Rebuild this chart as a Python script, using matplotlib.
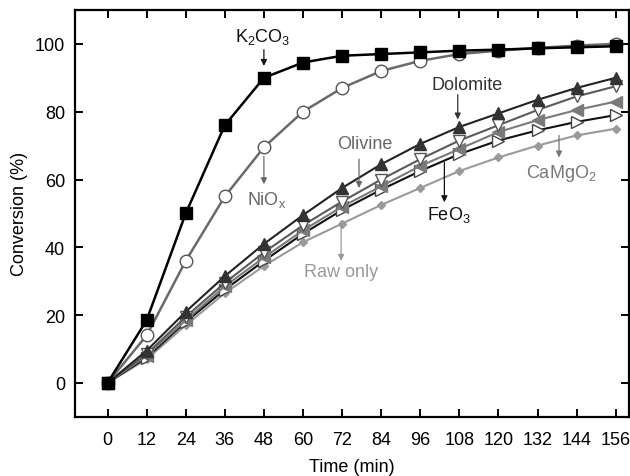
import matplotlib
matplotlib.use("Agg")
import matplotlib.pyplot as plt

plt.rcParams['font.family'] = ['Liberation Sans', 'DejaVu Sans']
plt.rcParams['mathtext.fontset'] = 'custom'
plt.rcParams['mathtext.rm'] = 'Liberation Sans'
plt.rcParams['mathtext.it'] = 'Liberation Sans'

time_min = [0, 12, 24, 36, 48, 60, 72, 84, 96, 108, 120, 132, 144, 156]

k2co3 = [0, 18.5, 50, 76, 90, 94.5, 96.5, 97, 97.5, 98, 98.3, 98.7, 99, 99.3]
niox = [0, 14, 36, 55, 69.5, 80, 87, 92, 95, 97, 98, 98.8, 99.5, 100]
dolomite = [0, 9.5, 21, 31.5, 41, 49.5, 57.5, 64.5, 70.5, 75.5, 79.5, 83.5, 87, 90]
olivine = [0, 8.5, 19.5, 29.5, 38.5, 46.5, 53.5, 60, 66, 71.5, 76, 80.5, 84.5, 87.5]
camgo2 = [0, 8, 18.5, 28.5, 37, 45, 52, 58, 64, 69, 74, 77.5, 80.5, 83]
feo3 = [0, 7.5, 18, 27.5, 36, 44, 51, 57, 62.5, 67.5, 71.5, 74.5, 77, 79]
raw_only = [0, 7, 17, 26.5, 34.5, 41.5, 47, 52.5, 57.5, 62.5, 66.5, 70, 73, 75]

x_ticks = [0, 12, 24, 36, 48, 60, 72, 84, 96, 108, 120, 132, 144, 156]
y_ticks = [0, 20, 40, 60, 80, 100]

fig = plt.figure(figsize=(6.3, 4.77), dpi=100)
ax = fig.add_axes([0.119, 0.124, 0.879, 0.853])

# series drawn back to front
ax.plot(time_min, raw_only, color='#9a9a9a', lw=1.5, marker='D', ms=4.5,
        mfc='#9a9a9a', mec='#9a9a9a', zorder=2)
ax.plot(time_min, feo3, color='#111111', lw=1.5, marker='>', ms=8,
        mfc='white', mec='#444444', mew=1.0, zorder=3)
ax.plot(time_min, camgo2, color='#7a7a7a', lw=1.5, marker='<', ms=8,
        mfc='#7a7a7a', mec='#7a7a7a', zorder=3)
ax.plot(time_min, olivine, color='#5a5a5a', lw=1.5, marker='v', ms=9,
        mfc='white', mec='#555555', mew=1.0, zorder=4)
ax.plot(time_min, dolomite, color='#222222', lw=1.5, marker='^', ms=9,
        mfc='#333333', mec='#333333', zorder=5)
ax.plot(time_min, niox, color='#6a6a6a', lw=1.8, marker='o', ms=9,
        mfc='white', mec='#555555', mew=1.0, zorder=6)
ax.plot(time_min, k2co3, color='#000000', lw=1.8, marker='s', ms=8.5,
        mfc='#000000', mec='#000000', zorder=7)

ax.set_xlim(-10, 160)
ax.set_ylim(-10, 110)
ax.set_xticks(x_ticks)
ax.set_yticks(y_ticks)
ax.tick_params(direction='in', length=6, width=1.4, top=True, right=True,
               labelsize=13)
ax.tick_params(axis='x', pad=10.5)
ax.tick_params(axis='y', pad=7)
for s in ax.spines.values():
    s.set_linewidth(1.6)

ax.set_xlabel('Time (min)', fontsize=13, labelpad=7)
ax.set_ylabel('Conversion (%)', fontsize=13, labelpad=5)


def note(text, color, label_xy, tail, head):
    """Label text plus a thin downward arrow from tail to head."""
    ax.text(*label_xy, text, color=color, fontsize=13,
            ha='center', va='center', zorder=8)
    ax.annotate('', xy=head, xytext=tail, zorder=8,
                arrowprops=dict(arrowstyle='-|>', color=color, lw=0.9,
                                mutation_scale=9, shrinkA=0, shrinkB=0))


note(r'K$_2$CO$_3$', '#111111', (47.5, 102.2), (48, 98.3), (48, 93.5))
note(r'NiO$_\mathrm{x}$', '#666666', (49, 54.2), (48, 66.8), (48, 58.6))
note('Olivine', '#666666', (79, 70.7), (77.2, 66), (77.2, 57.5))
note('Dolomite', '#333333', (110.3, 88), (107.5, 85), (107.5, 77.7))
note(r'FeO$_3$', '#111111', (104.7, 49.7), (103.4, 65), (103.4, 53.3))
note(r'CaMgO$_2$', '#777777', (139.2, 62.2), (138.6, 73), (138.6, 66.5))
note('Raw only', '#999999', (71.7, 33), (71.7, 47.7), (71.7, 36))

fig.savefig('out.png', dpi=100)
